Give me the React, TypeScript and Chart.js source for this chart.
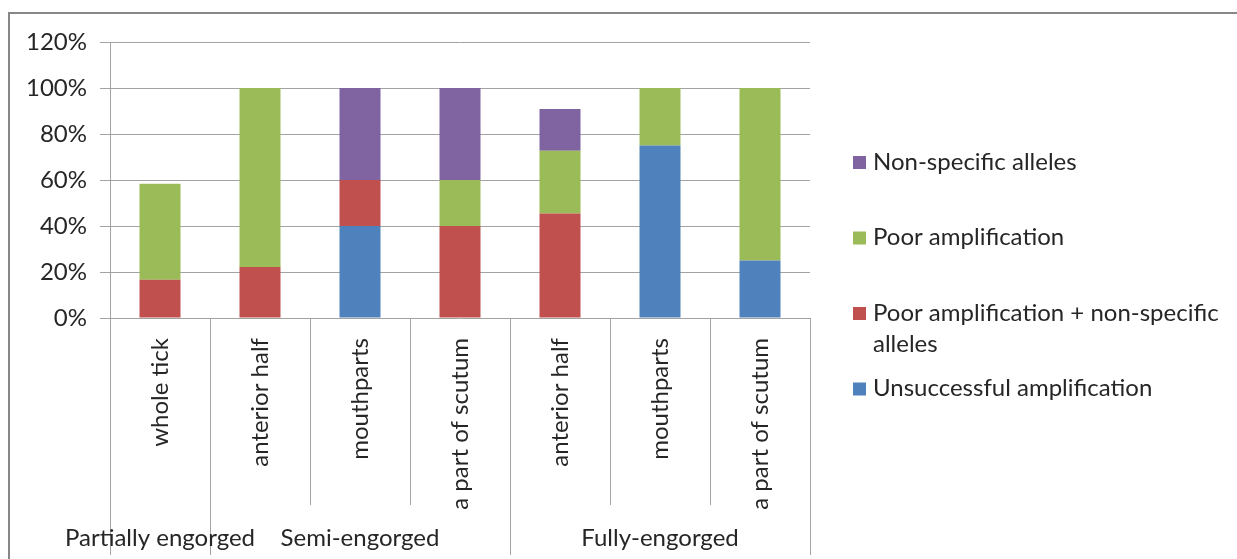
import React, { useEffect, useRef } from "react";
import { Chart, registerables } from "chart.js";

Chart.register(...registerables);

const categories = [
  "whole tick",
  "anterior half",
  "mouthparts",
  "a part of scutum",
  "anterior half",
  "mouthparts",
  "a part of scutum",
];
const groupLabels = ["Partially engorged", "Semi-engorged", "Fully-engorged"];
const groupSizes = [1, 3, 3];

const unsuccessful = [0, 0, 40, 0, 0, 75, 25];
const poorPlusNonSpecific = [16.67, 22.22, 20, 40, 45.45, 0, 0];
const poorAmplification = [41.67, 77.78, 0, 20, 27.27, 25, 75];
const nonSpecific = [0, 0, 40, 40, 18.18, 0, 0];

const seriesLabels = [
  "Unsuccessful amplification",
  "Poor amplification + non-specific alleles",
  "Poor amplification",
  "Non-specific alleles",
];
const seriesColors = ["#4F81BD", "#C0504D", "#9BBB59", "#8064A2"];

const yTicks = [0, 20, 40, 60, 80, 100, 120];

const FONT = "Lato, 'Open Sans', sans-serif";
const FONT_SIZE = 24;
const TEXT = "#262626";
const GRID = "#a3a3a3";

const decorPlugin = {
  id: "decor",
  afterDraw(chart: any) {
    const ctx = chart.ctx as CanvasRenderingContext2D;
    const xs = chart.scales.x;
    const area = chart.chartArea;
    ctx.save();

    // outer frame (extends beyond canvas on right/bottom)
    ctx.strokeStyle = "#878787";
    ctx.lineWidth = 2;
    ctx.strokeRect(9, 13, 1400, 700);

    // category dividers below the axis
    const n = categories.length;
    const half = (xs.getPixelForTick(1) - xs.getPixelForTick(0)) / 2;
    const groupBounds = new Set<number>([0]);
    let acc = 0;
    groupSizes.forEach((s) => {
      acc += s;
      groupBounds.add(acc);
    });
    ctx.strokeStyle = GRID;
    ctx.lineWidth = 1;
    for (let i = 0; i <= n; i++) {
      const bx =
        i < n ? xs.getPixelForTick(i) - half : xs.getPixelForTick(n - 1) + half;
      const yEnd = groupBounds.has(i) ? 555 : 505;
      ctx.beginPath();
      ctx.moveTo(Math.round(bx) + 0.5, area.bottom);
      ctx.lineTo(Math.round(bx) + 0.5, yEnd);
      ctx.stroke();
    }

    // group labels
    ctx.fillStyle = TEXT;
    ctx.font = `${FONT_SIZE}px ${FONT}`;
    ctx.textAlign = "center";
    ctx.textBaseline = "middle";
    let start = 0;
    groupSizes.forEach((s, gi) => {
      const x0 = xs.getPixelForTick(start) - half;
      const x1 = xs.getPixelForTick(start + s - 1) + half;
      ctx.fillText(groupLabels[gi], (x0 + x1) / 2, 538);
      start += s;
    });

    // legend (reversed order)
    const ds = chart.data.datasets;
    const boxX = 853;
    const textX = 873;
    const maxW = 1234 - textX;
    const lineH = 31;
    let rowY = 162;
    ctx.textAlign = "left";
    for (let k = ds.length - 1; k >= 0; k--) {
      const label: string = ds[k].label;
      const words = label.split(" ");
      const lines: string[] = [];
      let cur = "";
      words.forEach((w) => {
        const t = cur ? cur + " " + w : w;
        if (ctx.measureText(t).width > maxW && cur) {
          lines.push(cur);
          cur = w;
        } else cur = t;
      });
      if (cur) lines.push(cur);
      ctx.fillStyle = ds[k].backgroundColor;
      ctx.fillRect(boxX, rowY - 6, 13, 13);
      ctx.fillStyle = TEXT;
      lines.forEach((ln, li) => ctx.fillText(ln, textX, rowY + li * lineH));
      rowY += 75.5;
    }
    ctx.restore();
  },
};

export default function App() {
  const ref = useRef<HTMLCanvasElement | null>(null);
  useEffect(() => {
    if (!ref.current) return;
    const chart = new Chart(ref.current, {
      type: "bar",
      data: {
        labels: categories,
        datasets: [unsuccessful, poorPlusNonSpecific, poorAmplification, nonSpecific].map(
          (d, i) => ({
            label: seriesLabels[i],
            data: d,
            backgroundColor: seriesColors[i],
            borderWidth: 0,
            categoryPercentage: 1,
            barPercentage: 0.41,
          })
        ),
      },
      options: {
        animation: false,
        responsive: false,
        maintainAspectRatio: false,
        layout: { padding: { left: 0, top: 42, right: 427, bottom: 0 } },
        plugins: { legend: { display: false }, tooltip: { enabled: false } },
        scales: {
          x: {
            stacked: true,
            grid: { display: false, drawTicks: false },
            border: { display: false },
            ticks: {
              minRotation: 90,
              maxRotation: 90,
              padding: 20,
              color: TEXT,
              font: { family: FONT, size: FONT_SIZE },
            },
            afterFit: (s: any) => {
              s.height = 559 - 318;
            },
          },
          y: {
            stacked: true,
            min: 0,
            max: 120,
            afterBuildTicks: (s: any) => {
              s.ticks = yTicks.map((v) => ({ value: v }));
            },
            grid: { color: GRID, tickLength: 10, lineWidth: 1 },
            border: { display: true, color: GRID },
            ticks: {
              padding: 13,
              color: TEXT,
              font: { family: FONT, size: FONT_SIZE },
              callback: (v: any) => `${v}%`,
            },
            afterFit: (s: any) => {
              s.width = 110;
            },
          },
        },
      },
      plugins: [decorPlugin],
    });
    return () => chart.destroy();
  }, []);
  return (
    <div style={{ position: "fixed", left: 0, top: 0, width: 1237, height: 559, background: "#fff" }}>
      <canvas ref={ref} width={1237} height={559} style={{ display: "block" }} />
    </div>
  );
}
